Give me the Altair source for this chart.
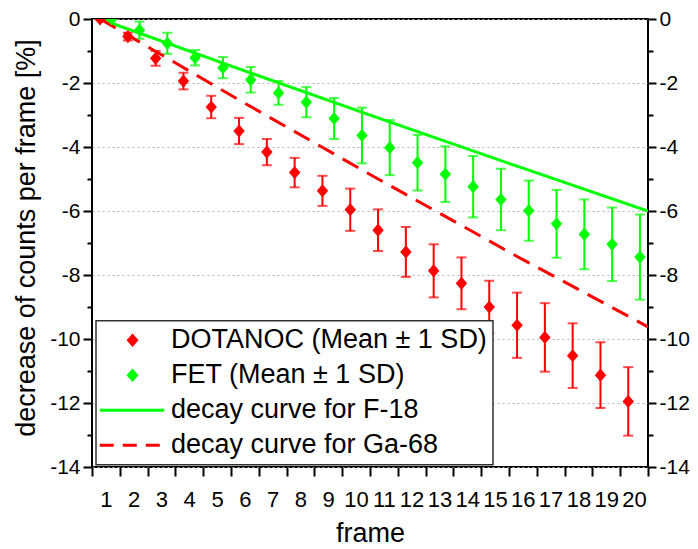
import altair as alt
import pandas as pd

# ---------------- data ----------------
frames = list(range(1, 21))
dotanoc_mean = [0.0, -0.55, -1.23, -1.94, -2.75, -3.50, -4.16, -4.80, -5.37, -5.96,
                -6.60, -7.28, -7.87, -8.26, -9.00, -9.57, -9.95, -10.52, -11.13, -11.95]
dotanoc_sd = [0.0, 0.12, 0.23, 0.26, 0.35, 0.41, 0.41, 0.46, 0.47, 0.66,
              0.65, 0.78, 0.83, 0.81, 0.82, 1.02, 1.07, 1.01, 1.03, 1.07]
fet_mean = [0.0, -0.35, -0.76, -1.21, -1.52, -1.90, -2.31, -2.60, -3.11, -3.64,
            -4.02, -4.49, -4.85, -5.24, -5.64, -5.99, -6.40, -6.73, -7.04, -7.44]
fet_sd = [0.0, 0.27, 0.33, 0.24, 0.33, 0.40, 0.37, 0.47, 0.64, 0.87,
          0.86, 0.87, 0.87, 0.96, 0.96, 0.94, 1.06, 1.09, 1.15, 1.33]

decay_x = [1, 6, 11, 16, 20.71]
f18_curve = [0.0, -1.56, -3.09, -4.60, -6.00]
ga68_curve = [0.0, -2.53, -5.00, -7.42, -9.62]

series_names = ["DOTANOC (Mean ± 1 SD)", "FET (Mean ± 1 SD)",
                "decay curve for F-18", "decay curve for Ga-68"]
y_major = [0, -2, -4, -6, -8, -10, -12, -14]
y_minor = [-1, -3, -5, -7, -9, -11, -13]

# ---------------- styling ----------------
FONT = "Liberation Sans"
RED = "#FF0000"
GREEN = "#00FF00"
DIAMOND = "M0,-1.1L0.95,0L0,1.1L-0.95,0Z"
LEG_DIAMOND = "M1.55,-0.41L1.91,0L1.55,0.41L1.19,0Z"
LEG_LINE = "M-1.43,0L4.43,0"

df_d = pd.DataFrame({"frame": frames, "mean": dotanoc_mean, "sd": dotanoc_sd})
df_f = pd.DataFrame({"frame": frames, "mean": fet_mean, "sd": fet_sd})
df_decay = pd.DataFrame({"x": decay_x, "f18": f18_curve, "ga68": ga68_curve})
df_leg = pd.DataFrame({"series": series_names})

xscale = alt.Scale(domain=[0.71, 20.71], nice=False, zero=False)
yscale = alt.Scale(domain=[-14, 0], nice=False, zero=False)

x_ticks = [round(0.71 + k, 2) for k in range(21)]
x_axis = alt.Axis(values=x_ticks,
                  labelExpr="datum.value < 1 ? '' : '' + round(datum.value - 0.71)",
                  labelOffset=-14, labelOverlap=False, labelFlush=False, labelBound=False,
                  tickSize=9, tickWidth=2, labelFontSize=22, labelPadding=13,
                  grid=False, domain=False, title="frame", titleFontSize=27,
                  titleBaseline="alphabetic", titleY=74)

y_left = alt.Axis(orient="left", values=y_major, labelExpr="'' + datum.value",
                  tickSize=9, tickWidth=2, labelPadding=3, labelFontSize=21,
                  grid=True, gridDash=[2, 3], gridColor="#b4b4b4", gridWidth=1,
                  domain=False, title="decrease of counts per frame [%]",
                  titleFontSize=27, titleX=-58, titleY=218.5, titleBaseline="alphabetic")
y_left_minor = alt.Axis(orient="left", values=y_minor, tickSize=5, tickWidth=2,
                        labels=False, grid=False, domain=False, title=None)
y_right = alt.Axis(orient="right", values=y_major, labelExpr="'' + datum.value",
                   tickSize=8, tickWidth=2, labelPadding=3, labelFontSize=21,
                   grid=False, domain=False, title=None)
y_right_minor = alt.Axis(orient="right", values=y_minor, tickSize=5, tickWidth=2,
                         labels=False, grid=False, domain=False, title=None)


def base(df, shift):
    return alt.Chart(df).transform_calculate(
        lo="datum.mean - datum.sd", hi="datum.mean + datum.sd",
        xpos=f"datum.frame + {shift}")


bd = base(df_d, 0)
bf = base(df_f, 0.42)

red_rules = bd.mark_rule(color=RED, strokeWidth=2, clip=True).encode(
    x=alt.X("xpos:Q", scale=xscale, axis=x_axis),
    y=alt.Y("lo:Q", scale=yscale, axis=y_left), y2="hi:Q")
red_cap_top = bd.mark_tick(orient="horizontal", size=10, thickness=2, color=RED, clip=True).encode(
    x=alt.X("xpos:Q", scale=xscale, axis=None),
    y=alt.Y("hi:Q", scale=yscale, axis=y_left_minor))
red_cap_bot = bd.mark_tick(orient="horizontal", size=10, thickness=2, color=RED, clip=True).encode(
    x=alt.X("xpos:Q", scale=xscale, axis=None),
    y=alt.Y("lo:Q", scale=yscale, axis=y_right))
red_pts = bd.mark_point(shape=DIAMOND, size=144, filled=True, fill=RED, strokeWidth=0,
                        opacity=1, clip=True).encode(
    x=alt.X("xpos:Q", scale=xscale, axis=None),
    y=alt.Y("mean:Q", scale=yscale, axis=y_right_minor))

green_rules = bf.mark_rule(color=GREEN, strokeWidth=2, clip=True).encode(
    x=alt.X("xpos:Q", scale=xscale, axis=None),
    y=alt.Y("lo:Q", scale=yscale, axis=None), y2="hi:Q")
green_cap_top = bf.mark_tick(orient="horizontal", size=10, thickness=2, color=GREEN, clip=True).encode(
    x=alt.X("xpos:Q", scale=xscale, axis=None),
    y=alt.Y("hi:Q", scale=yscale, axis=None))
green_cap_bot = bf.mark_tick(orient="horizontal", size=10, thickness=2, color=GREEN, clip=True).encode(
    x=alt.X("xpos:Q", scale=xscale, axis=None),
    y=alt.Y("lo:Q", scale=yscale, axis=None))
green_pts = bf.mark_point(shape=DIAMOND, size=144, filled=True, fill=GREEN, strokeWidth=0,
                          opacity=1, clip=True).encode(
    x=alt.X("xpos:Q", scale=xscale, axis=None),
    y=alt.Y("mean:Q", scale=yscale, axis=None))

f18_line = alt.Chart(df_decay).mark_line(color=GREEN, strokeWidth=3, clip=True).encode(
    x=alt.X("x:Q", scale=xscale, axis=None),
    y=alt.Y("f18:Q", scale=yscale, axis=None))
ga68_line = alt.Chart(df_decay).mark_line(color=RED, strokeWidth=3, strokeDash=[18, 10],
                                          clip=True).encode(
    x=alt.X("x:Q", scale=xscale, axis=None),
    y=alt.Y("ga68:Q", scale=yscale, axis=None))

legend = alt.Legend(orient="none", legendX=4, legendY=301.7, title=None, padding=6,
                    fillColor="white", strokeColor="#303030", labelFont=FONT,
                    labelFontSize=27, labelColor="black", labelLimit=600,
                    symbolSize=484, symbolStrokeWidth=3, symbolOpacity=1, labelOffset=42,
                    rowPadding=7, direction="vertical", columns=1)
leg_colors = [RED, GREEN, GREEN, RED]
legend_layer = alt.Chart(df_leg).transform_filter("false").mark_point(filled=True).encode(
    fill=alt.Fill("series:N", scale=alt.Scale(domain=series_names, range=leg_colors), legend=legend),
    stroke=alt.Stroke("series:N", scale=alt.Scale(domain=series_names, range=leg_colors), legend=legend),
    shape=alt.Shape("series:N", scale=alt.Scale(domain=series_names,
                                                range=[LEG_DIAMOND, LEG_DIAMOND, LEG_LINE, LEG_LINE]),
                    legend=legend),
    strokeDash=alt.StrokeDash("series:N", scale=alt.Scale(domain=series_names,
                                                          range=[[1, 0], [1, 0], [1, 0], [14, 9]]),
                              legend=legend),
)

chart = alt.layer(
    red_rules, red_cap_top, red_cap_bot, green_rules, green_cap_top, green_cap_bot,
    f18_line, ga68_line, red_pts, green_pts, legend_layer
).resolve_scale(x="shared", y="shared").resolve_axis(
    x="independent", y="independent"
).properties(
    width=556, height=448,
    padding={"left": 84, "top": 11, "right": 42, "bottom": 82},
    autosize=alt.AutoSizeParams(type="none"),
).configure_axis(
    labelFont=FONT, titleFont=FONT, labelColor="black", titleColor="black",
    tickColor="black", titleFontWeight="normal"
).configure_view(stroke="black", strokeWidth=2).configure_legend(strokeWidth=1.5)

chart.save("out.html", embed_options={"renderer": "svg", "actions": False})
